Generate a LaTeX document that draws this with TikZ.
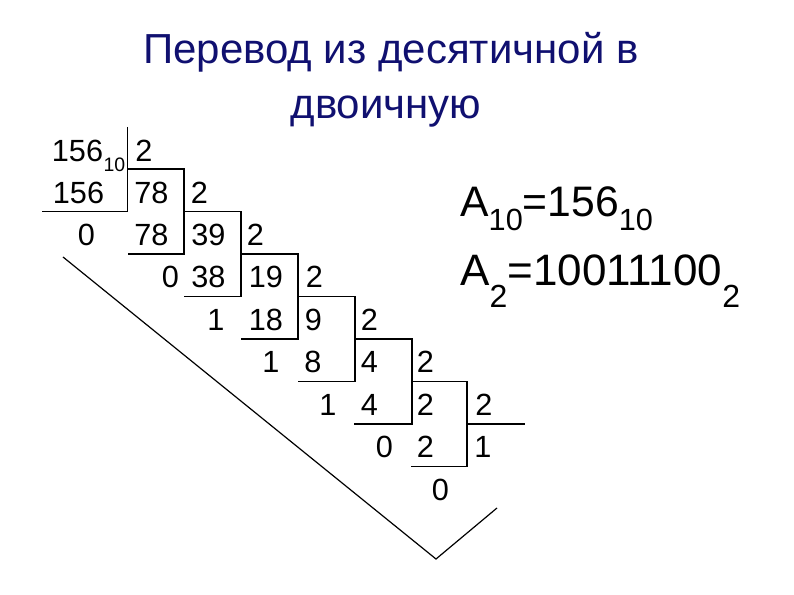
\documentclass[tikz,border=0pt]{standalone}
\usepackage{fontspec}
\setmainfont{Liberation Sans}
\definecolor{titleblue}{RGB}{16,16,112}
\newcommand\lowsub[3]{\raisebox{-#1}{\fontsize{#2}{#2}\selectfont #3}}
\begin{document}
\begin{tikzpicture}[x=0.75pt,y=-0.75pt,
  num/.style={font=\fontsize{23}{23}\selectfont, inner sep=0pt, anchor=base},
  smallnum/.style={font=\fontsize{14.6}{14.6}\selectfont, inner sep=0pt, anchor=base},
  titletext/.style={font=\fontsize{31.5}{31.5}\selectfont, text=titleblue, inner sep=0pt, anchor=base},
  formula/.style={font=\fontsize{32}{32}\selectfont, inner sep=0pt, anchor=base west},
  rule/.style={line width=0.9pt, black}]
\useasboundingbox (0,0) rectangle (794,595);
% title
\node[titletext] (t1) at (391,64) {Перевод из десятичной в};
\node[titletext] (t2) at (386,119) {двоичную};
% division rows
\node[num] (a1) at (77.5,162) {156};
\node[smallnum] (a1s) at (114.5,172) {10};
\node[num] (b1) at (144,162) {2};
\node[num] (a2) at (78.5,204) {156};
\node[num] (b2) at (151.5,204) {78};
\node[num] (c2) at (199.5,204) {2};
\node[num] (a3) at (86.5,246) {0};
\node[num] (b3) at (151.5,246) {78};
\node[num] (c3) at (208.5,246) {39};
\node[num] (d3) at (255.5,246) {2};
\node[num] (b4) at (170.5,288) {0};
\node[num] (c4) at (208.5,288) {38};
\node[num] (d4) at (266,288) {19};
\node[num] (e4) at (314.5,288) {2};
\node[num] (c5) at (216,331) {1};
\node[num] (d5) at (266,331) {18};
\node[num] (e5) at (313.5,331) {9};
\node[num] (f5) at (369.5,331) {2};
\node[num] (d6) at (271,373) {1};
\node[num] (e6) at (313,373) {8};
\node[num] (f6) at (369.5,373) {4};
\node[num] (g6) at (425.5,373) {2};
\node[num] (e7) at (328,416) {1};
\node[num] (f7) at (369.5,416) {4};
\node[num] (g7) at (425.5,416) {2};
\node[num] (h7) at (484,416) {2};
\node[num] (f8) at (384.5,458) {0};
\node[num] (g8) at (425.5,458) {2};
\node[num] (h8) at (483,458) {1};
\node[num] (g9) at (440.5,501) {0};
% lines
\draw[rule] (127.5,127) -- (127.5,211.5) -- (42,211.5);
\draw[rule] (127.5,169) -- (184,169) -- (184,254) -- (128,254);
\draw[rule] (184,211.5) -- (241,211.5) -- (241,296.5) -- (184,296.5);
\draw[rule] (241,254) -- (298,254) -- (298,339) -- (241,339);
\draw[rule] (298,296.5) -- (355,296.5) -- (355,381.5) -- (298,381.5);
\draw[rule] (355,339) -- (412,339) -- (412,424) -- (354,424);
\draw[rule] (412,381.5) -- (467,381.5) -- (467,466.5) -- (411,466.5);
\draw[rule] (467,424) -- (525,424);
% V
\coordinate (v1) at (63,257);
\coordinate (v2) at (436,559);
\coordinate (v3) at (497,508);
\draw[rule] (v1) -- (v2) -- (v3);
% formulas
\node[formula] (f1) at (460,217) {A\lowsub{10.5pt}{23}{10}=156\lowsub{10.5pt}{23}{10}};
\node[formula, font=\fontsize{33}{33}\selectfont] (f2) at (460,286) {A\lowsub{16.5pt}{24}{2}=10011100\lowsub{16.5pt}{24}{2}};
\end{tikzpicture}
\end{document}
